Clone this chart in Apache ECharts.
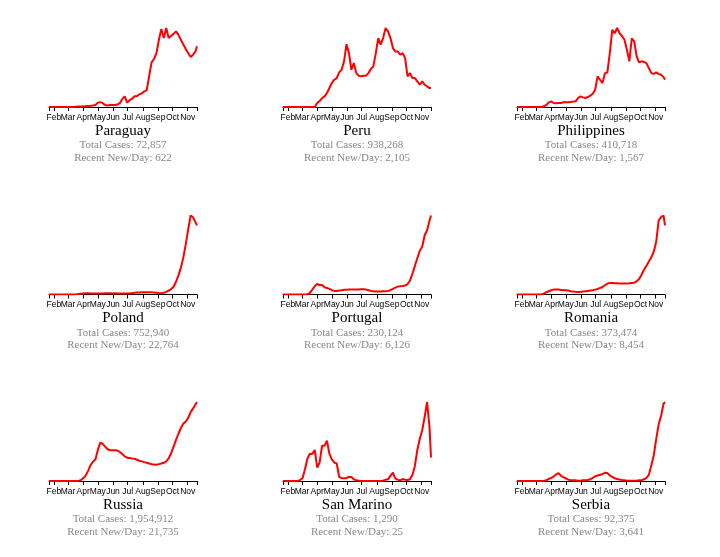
<!DOCTYPE html>
<html>
<head>
<meta charset="utf-8">
<script src="https://cdn.jsdelivr.net/npm/echarts@6/dist/echarts.min.js"></script>
<style>
html,body{margin:0;padding:0;background:#fff;}
#chart{width:720px;height:557px;}
</style>
</head>
<body>
<div id="chart"></div>
<script>
// Sample dates (2020), roughly every 5 days
const dates = ['01-22','01-27','02-01','02-06','02-11','02-16','02-21','02-26','03-02','03-07',
 '03-12','03-17','03-22','03-27','04-01','04-06','04-11','04-16','04-21','04-26',
 '05-01','05-06','05-11','05-16','05-21','05-26','05-31','06-05','06-10','06-15',
 '06-20','06-25','06-30','07-05','07-10','07-15','07-20','07-25','07-30','08-04',
 '08-09','08-14','08-19','08-24','08-29','09-03','09-08','09-13','09-18','09-23',
 '09-28','10-03','10-08','10-13','10-18','10-23','10-28','11-02','11-07','11-12',
 '11-17','11-20'];
const axisStart = '01-22';
const axisEnd = '11-20';
const monthTicks = ['02-01','03-01','04-01','05-01','06-01','07-01','08-01','09-01','10-01','11-01'];
const monthNames = ['Jan','Feb','Mar','Apr','May','Jun','Jul','Aug','Sep','Oct','Nov','Dec'];

const countries = ['Paraguay','Peru','Philippines','Poland','Portugal','Romania','Russia','San Marino','Serbia'];
const totalCases = ['72,857','938,268','410,718','752,940','230,124','373,474','1,954,912','1,290','92,375'];
const recentPerDay = ['622','2,105','1,567','22,764','6,126','8,454','21,735','25','3,641'];

const paraguay = [0,0,0,0,0,0,0,0,0,0,
 1,3,5,6,8,8,10,12,15,20,
 45,50,40,20,15,20,20,20,25,40,
 80,110,45,70,85,110,110,130,140,160,
 170,315,458,492,553,690,800,707,810,707,
 730,750,775,740,690,640,595,553,512,536,
 570,622];
const peru = [0,0,0,0,0,0,0,0,0,0,
 0,0,0,0,445,670,960,1190,1560,2110,
 2670,3040,3220,3860,4150,5080,7000,6000,4150,4900,
 3780,3490,3410,3490,3490,3780,4230,4520,6000,7680,
 6940,7680,8800,8420,7680,6560,6190,6190,5820,6000,
 5450,3410,3780,3220,3220,2860,2480,2860,2480,2300,
 2110,2105];
const philippines = [0,0,0,0,0,0,0,0,0,0,
 0,40,115,270,325,230,210,230,230,270,
 270,270,290,310,325,520,610,555,520,575,
 650,765,995,1760,1570,1380,1950,1990,3100,4440,
 4250,4550,4250,4090,3870,3300,2630,3960,3780,2920,
 2570,2630,2590,2530,2240,1950,1910,1990,1910,1860,
 1720,1567];
const poland = [0,0,0,0,0,0,0,0,0,5,
 20,60,150,250,350,380,400,350,320,330,
 360,340,330,380,400,380,360,380,350,320,
 300,320,330,380,450,550,620,680,720,760,
 780,740,700,650,600,480,450,600,850,1300,
 1800,2540,4200,6300,8830,12140,16560,21530,26000,25400,
 23750,22764];
const portugal = [0,0,0,0,0,0,0,0,0,0,
 10,130,380,640,815,740,740,560,510,435,
 330,280,280,305,330,360,360,380,380,380,
 380,380,410,410,380,330,280,255,230,230,
 230,255,255,280,330,435,535,610,640,660,
 690,815,1070,1610,2220,2810,3390,3700,4590,4980,
 5740,6126];
const romania = [0,0,0,0,0,0,0,0,0,0,
 20,100,280,400,520,600,600,600,560,520,
 520,480,400,360,320,320,320,360,400,440,
 480,520,600,680,800,920,1130,1330,1410,1410,
 1370,1370,1330,1330,1330,1330,1370,1410,1450,1610,
 1890,2415,3020,3500,4025,4550,5230,6440,9060,9460,
 9660,8454];
const russia = [0,0,0,0,0,0,0,0,0,0,
 0,0,30,185,740,1490,2790,4370,5290,5940,
 8550,10590,10220,9470,8730,8450,8450,8450,8360,7990,
 7430,6780,6410,6320,6220,6130,5850,5570,5390,5200,
 5020,4830,4640,4550,4460,4640,4830,5020,5390,6220,
 7620,9470,11330,13000,14580,15790,16350,17370,18950,19970,
 21080,21735];
const sanMarino = [0,0,0,0,0,0,0,1,3,12.5,
 24,29,28.6,33,14.3,19.7,37.5,37.5,43,29,
 23,19.7,18.6,4.3,3,3,3,4.6,4.3,1.8,
 0.7,0.4,0,0,0,0,0,0,0,0,
 0,0.4,1.4,1.8,5.4,8.9,2.5,1.4,0.7,2.1,
 1.4,1,1.8,6.4,16,33,44.7,54,68,84,
 57,25];
const serbia = [0,0,0,0,0,0,0,0,0,0,
 0,5,32,95,140,205,300,365,240,175,
 125,65,32,32,32,16,16,32,32,48,
 80,140,220,255,285,315,380,365,255,190,
 125,95,65,48,32,16,16,16,16,16,
 32,32,80,140,285,710,1190,1930,2610,3010,
 3560,3641];

const seriesValues = [paraguay, peru, philippines, poland, portugal, romania, russia, sanMarino, serbia];

function ts(s){ const p = s.split('-').map(Number); return Date.UTC(2020, p[0]-1, p[1]); }

const colLeft = [49, 283, 517];
const rowTop = [28, 215.5, 402];
const plotW = 148, plotH = 79;

const grids = [], xAxes = [], yAxes = [], series = [], graphics = [];
const tMin = ts(axisStart), tMax = ts(axisEnd);
// end ticks listed twice: ECharts drops the first/last tick together with hidden min/max labels
const tickVals = [tMin, tMin].concat(monthTicks.map(ts)).concat([tMax, tMax]);
// end values carry empty labels so the month labels are never dropped as "min/max" overlaps
const labelVals = [tMin].concat(monthTicks.map(ts)).concat([tMax]);

for (let i = 0; i < 9; i++) {
  const c = i % 3, r = Math.floor(i / 3);
  grids.push({left: colLeft[c], top: rowTop[r], width: plotW, height: plotH, containLabel: false});
  xAxes.push({
    type: 'value', gridIndex: i, min: tMin, max: tMax, scale: true,
    axisLine: {show: true, lineStyle: {color: '#000', width: 1}},
    axisTick: {show: true, length: 4, lineStyle: {color: '#000', width: 1}, customValues: tickVals},
    axisLabel: {show: true, customValues: labelVals, hideOverlap: false,
      fontFamily: 'Liberation Sans, Arial, sans-serif', fontSize: 8.5, color: '#000', margin: 6,
      showMinLabel: false, showMaxLabel: false,
      formatter: function(v){ if (v === tMin || v === tMax) return ''; return monthNames[new Date(v).getUTCMonth()]; }},
    splitLine: {show: false}
  });
  yAxes.push({type: 'value', gridIndex: i, min: 0, max: 'dataMax', show: false, splitLine: {show: false}});
  const vals = seriesValues[i];
  series.push({
    type: 'line', xAxisIndex: i, yAxisIndex: i, showSymbol: false, symbol: 'none',
    data: dates.map((d, k) => [ts(d), vals[k]]),
    lineStyle: {color: '#ff0000', width: 2}, itemStyle: {color: '#ff0000'}, animation: false
  });
  const cx = colLeft[c] + plotW / 2;
  const base = rowTop[r] + plotH;
  graphics.push({type: 'text', x: cx, y: base + 24, style: {text: countries[i], align: 'center', verticalAlign: 'middle',
    font: '15px "Liberation Serif", "Times New Roman", serif', fill: '#000'}});
  graphics.push({type: 'text', x: cx, y: base + 38.5, style: {text: 'Total Cases: ' + totalCases[i], align: 'center', verticalAlign: 'middle',
    font: '11px "Liberation Serif", "Times New Roman", serif', fill: '#888'}});
  graphics.push({type: 'text', x: cx, y: base + 51, style: {text: 'Recent New/Day: ' + recentPerDay[i], align: 'center', verticalAlign: 'middle',
    font: '11px "Liberation Serif", "Times New Roman", serif', fill: '#888'}});
}

const chart = echarts.init(document.getElementById('chart'), null, {renderer: 'canvas'});
chart.setOption({
  animation: false,
  backgroundColor: '#fff',
  grid: grids, xAxis: xAxes, yAxis: yAxes, series: series,
  graphic: graphics
});
</script>
</body>
</html>
